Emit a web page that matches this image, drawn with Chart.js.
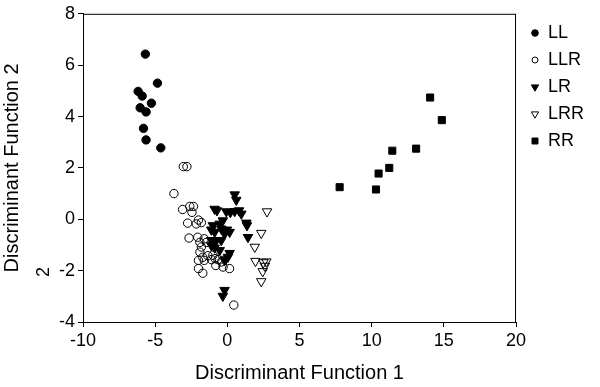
<!DOCTYPE html>
<html><head><meta charset="utf-8">
<script src="https://cdn.jsdelivr.net/npm/chart.js@4"></script>
<style>html,body{margin:0;padding:0;background:#fff}#c{display:block}</style>
</head><body>
<canvas id="c" width="600" height="387"></canvas>
<script>
const seriesNames = ["LL","LLR","LR","LRR","RR"];
const llX = [-5.68,-4.84,-6.18,-5.90,-5.26,-6.04,-5.63,-5.81,-5.63,-4.61];
const llY = [6.43,5.30,4.98,4.80,4.52,4.34,4.18,3.54,3.09,2.78];
const llrX = [-3.7,-3.05,-2.8,-3.1,-2.6,-2.35,-2.45,-2.75,-2.15,-2.0,-1.8,-2.65,-2.05,-1.9,-1.6,-1.45,-1.8,-1.9,-1.7,-1.6,-2.0,-1.35,-1.1,-1.0,-0.85,-0.65,-0.4,-0.8,-0.3,0.15,-2.0,-1.7,0.45];
const llrY = [1.0,2.05,2.05,0.38,0.5,0.5,0.27,-0.15,-0.18,-0.03,-0.13,-0.73,-0.70,-0.9,-0.76,-0.9,-1.08,-1.28,-1.48,-1.6,-1.6,-1.42,-1.57,-1.4,-1.53,-1.57,-1.66,-1.8,-1.86,-1.92,-1.92,-2.1,-3.34];
const lrX = [0.51,0.62,-0.88,-0.72,-0.07,0.21,0.51,0.81,0.97,1.32,1.36,-0.31,-0.53,-1.0,-1.11,-0.88,-0.42,-0.03,0.16,-0.19,1.43,-1.11,-0.76,-0.42,-1.11,-0.88,-0.53,0.16,0.04,-0.19,-0.19,-0.31];
const lrY = [0.96,0.75,0.40,0.34,0.30,0.27,0.31,0.34,0.21,-0.14,-0.24,-0.05,-0.18,-0.24,-0.41,-0.50,-0.37,-0.41,-0.50,-0.57,-0.70,-0.82,-0.82,-0.82,-1.02,-1.11,-1.21,-1.32,-1.47,-1.60,-2.76,-2.99];
const lrrX = [2.75,2.35,1.9,1.95,2.5,2.7,2.6,2.45,2.35,-0.1];
const lrrY = [0.3,-0.54,-1.08,-1.63,-1.68,-1.65,-1.82,-2.03,-2.42,-1.55];
const rrX = [14.05,14.86,13.08,11.43,11.22,10.48,7.78,10.30];
const rrY = [4.74,3.86,2.75,2.67,2.0,1.78,1.25,1.16];
const xTicks = [-10,-5,0,5,10,15,20];
const yTicks = [-4,-2,0,2,4,6,8];

const pts = (xs, ys) => xs.map((x,i)=>({x, y: ys[i]}));
const FONT = "'Liberation Sans', Arial, Helvetica, sans-serif";

const styles = [
  {pointStyle:'circle', radius:4.2, legR:3.3, bg:'#000', border:'#000', rot:0},
  {pointStyle:'circle', radius:4.2, legR:3.0, bg:'rgba(0,0,0,0)', border:'#000', rot:0},
  {pointStyle:'triangle', radius:5.5, legR:4.2, bg:'#000', border:'#000', rot:180},
  {pointStyle:'triangle', radius:5.5, legR:4.2, bg:'rgba(0,0,0,0)', border:'#000', rot:180},
  {pointStyle:'rect', radius:5, legR:4.2, bg:'#000', border:'#000', rot:0}
];
const dataArr = [pts(llX,llY), pts(llrX,llrY), pts(lrX,lrY), pts(lrrX,lrrY), pts(rrX,rrY)];

const datasets = seriesNames.map((n,i)=>({
  label: n, data: dataArr[i],
  pointStyle: styles[i].pointStyle, pointRadius: styles[i].radius, pointHoverRadius: styles[i].radius,
  pointRotation: styles[i].rot,
  backgroundColor: styles[i].bg, borderColor: styles[i].border, borderWidth: 1
}));

const extras = {
  id:'extras',
  afterDraw(chart){
    const ctx = chart.ctx, a = chart.chartArea;
    ctx.save();
    ctx.strokeStyle = '#000'; ctx.lineWidth = 1;
    ctx.beginPath();
    ctx.moveTo(a.left, a.top+0.5); ctx.lineTo(a.right, a.top+0.5);
    ctx.moveTo(a.right-0.5, a.top); ctx.lineTo(a.right-0.5, a.bottom);
    ctx.stroke();
    ctx.restore();
    // legend
    const lx = 535, ly0 = 33, dy = 27;
    seriesNames.forEach((n,i)=>{
      const s = styles[i], y = ly0 + i*dy;
      ctx.save();
      ctx.fillStyle = s.bg; ctx.strokeStyle = s.border; ctx.lineWidth = 1;
      Chart.helpers.drawPoint(ctx, {pointStyle:s.pointStyle, radius:s.legR, rotation:s.rot, borderWidth:1}, lx, y);
      ctx.restore();
      ctx.save();
      ctx.fillStyle = '#000'; ctx.font = "18px " + FONT; ctx.textBaseline='middle'; ctx.textAlign='left';
      ctx.fillText(n, 548, y);
      ctx.restore();
    });
    // stray rotated "2"
    ctx.save();
    ctx.translate(44, 272); ctx.rotate(-Math.PI/2);
    ctx.font = "18px " + FONT; ctx.fillStyle='#000'; ctx.textAlign='center'; ctx.textBaseline='middle';
    ctx.fillText('2', 0, 0);
    ctx.restore();
  }
};

new Chart(document.getElementById('c'), {
  type:'scatter',
  data:{datasets},
  options:{
    responsive:false, animation:false, devicePixelRatio:1,
    layout:{padding:{left:0, right:84, top:12, bottom:0}},
    plugins:{legend:{display:false}, tooltip:{enabled:false}},
    scales:{
      x:{
        type:'linear', min:-10, max:20,
        afterBuildTicks(s){ s.ticks = xTicks.map(v=>({value:v})); },
        afterFit(s){ s.height = 65; },
        border:{color:'#000', width:1},
        grid:{drawOnChartArea:false, color:'#000', tickLength:5, tickWidth:1},
        ticks:{color:'#000', font:{size:18, family:FONT}, padding:3, maxRotation:0},
        title:{display:true, text:'Discriminant Function 1', color:'#000', font:{size:20, family:FONT}, padding:{top:0,bottom:2}}
      },
      y:{
        type:'linear', min:-4, max:8,
        afterBuildTicks(s){ s.ticks = yTicks.map(v=>({value:v})); },
        afterFit(s){ s.width = 83; },
        border:{color:'#000', width:1},
        grid:{drawOnChartArea:false, color:'#000', tickLength:5, tickWidth:1},
        ticks:{color:'#000', font:{size:18, family:FONT}, padding:3},
        title:{display:true, text:'Discriminant Function 2', color:'#000', font:{size:20, family:FONT}, padding:{top:0,bottom:0}}
      }
    }
  },
  plugins:[extras]
});
</script>
</body></html>
